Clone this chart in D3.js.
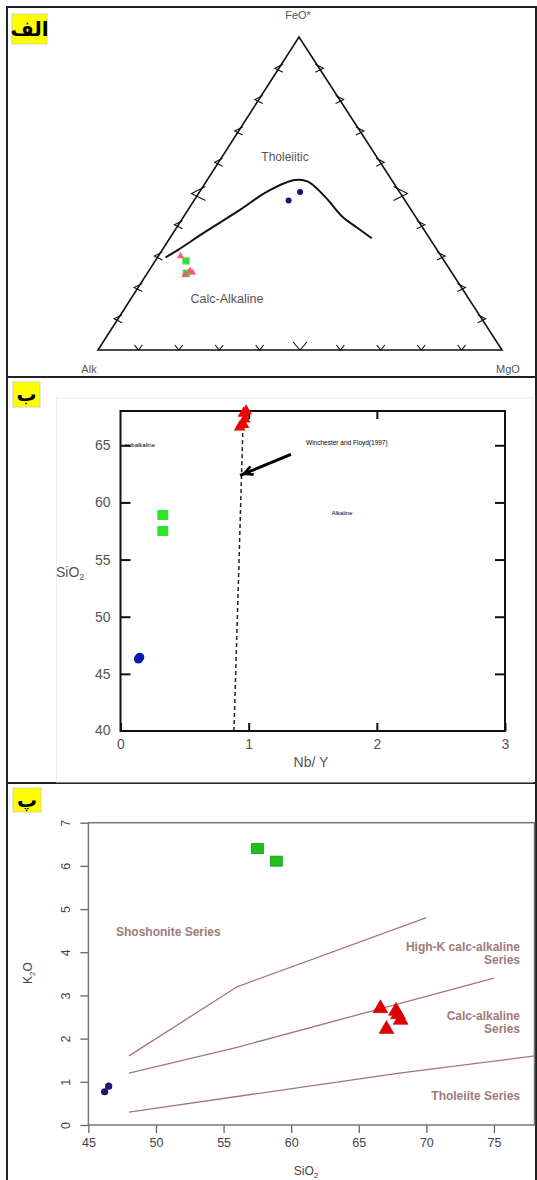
<!DOCTYPE html>
<html>
<head>
<meta charset="utf-8">
<script src="https://cdn.jsdelivr.net/npm/d3@7"></script>
<style>
  body { margin: 0; background: #fff; }
  text { font-family: "Liberation Sans", Arial, sans-serif; }
</style>
</head>
<body>
<svg id="chart" width="537" height="1180"></svg>
<script>
// panel A - AFM ternary, each point [Alk, FeO*, MgO] in %
var afmBoundary = [[68.4,29.6,2.0],[64.1,32.0,3.9],[54.4,37.8,7.8],[42.5,44.7,12.8],[32.7,50.6,16.7],
                   [24.1,54.3,21.6],[21.0,53.8,25.2],[19.2,49.0,31.8],[18.1,42.6,39.3],[16.1,38.9,45.0],[14.3,35.7,50.0]];
var afmBlue  = [[28.8,47.8,23.4],[24.6,50.5,24.9]];
var afmGreen = [[63.9,28.5,7.6],[65.8,24.5,9.7]];
var afmRed   = [[64.5,30.0,5.5],[64.5,25.3,10.2],[66.4,24.0,9.6],[64.2,24.7,11.1]];
var afmTicks = [10,20,30,40,50,60,70,80,90];

// panel B - SiO2 vs Nb/Y
var nbyBlue = [0.14, 0.15],  sioBlue = [46.3, 46.45];
var nbyGreen = [0.33, 0.33], sioGreen = [58.9, 57.5];
var nbyRed = [0.93, 0.96, 0.97, 0.96, 0.98], sioRed = [66.6, 66.8, 67.3, 67.8, 68.0];
var nbyDivide = [0.885, 0.92, 0.955], sioDivide = [40, 53, 66.5];
var arrowFrom = [1.33, 64.2], arrowTo = [0.962, 62.5];
var nbyTicks = [0, 1, 2, 3], sioTicks = [40, 45, 50, 55, 60, 65];

// panel P - K2O vs SiO2
var sioBlue3 = [46.2, 46.5],  kBlue3 = [0.77, 0.90];
var sioGreen3 = [57.5, 58.9], kGreen3 = [6.4, 6.11];
var sioRed3 = [66.6, 67.75, 67.9, 68.1, 67.05], kRed3 = [2.70, 2.64, 2.56, 2.43, 2.22];
var lineShoshonite = [[48,1.6],[56,3.2],[70,4.8]];
var lineHighK      = [[48,1.2],[56,1.8],[75,3.4]];
var lineTholeiite  = [[48,0.3],[68,1.2],[78,1.6]];
var sio3Ticks = [45,50,55,60,65,70,75], k3Ticks = [0,1,2,3,4,5,6,7];

var svg = d3.select("#chart");
svg.append("rect").attr("width", 537).attr("height", 1180).attr("fill", "#fff");

// ---------- panel frames + labels ----------
svg.append("rect").attr("x", 7).attr("y", 7).attr("width", 529).attr("height", 1185)
  .attr("fill", "none").attr("stroke", "#222").attr("stroke-width", 2);
[377, 783].forEach(function(y) {
  svg.append("line").attr("x1", 7).attr("x2", 537).attr("y1", y).attr("y2", y)
    .attr("stroke", "#222").attr("stroke-width", 2);
});

function panelLabel(x, y, w, h, txt) {
  svg.append("rect").attr("x", x).attr("y", y).attr("width", w).attr("height", h)
    .attr("fill", "#ffff00").attr("stroke", "#c8c8a0").attr("stroke-width", 0.8);
  svg.append("text").attr("x", x + w / 2).attr("y", y + h / 2 + 1)
    .attr("text-anchor", "middle").attr("dominant-baseline", "middle")
    .style("font-family", "DejaVu Sans").style("font-weight", "bold").style("font-size", "20px")
    .attr("fill", "#000").text(txt);
}
panelLabel(12, 14, 35, 30, "الف");
panelLabel(13, 382, 27, 25, "ب");
panelLabel(13, 788, 28, 24, "پ");

// ---------- panel A ----------
var tf = d3.scaleLinear().domain([0, 100]).range([350, 37]);   // FeO -> y
var tfx = d3.scaleLinear().domain([0, 100]).range([0, 201]);   // FeO -> x shift
var tm = d3.scaleLinear().domain([0, 100]).range([98, 502]);   // MgO -> x
function tern(p) { return [tm(p[2]) + tfx(p[1]), tf(p[1])]; }

var gA = svg.append("g");
var corners = [[100,0,0],[0,100,0],[0,0,100]].map(tern);
gA.append("path").attr("d", "M" + corners.join("L") + "Z")
  .attr("fill", "none").attr("stroke", "#111").attr("stroke-width", 1.6);

afmTicks.forEach(function(v) {
  var big = v === 50, s = big ? 7 : 4;
  var l = tern([100 - v, v, 0]), r = tern([0, v, 100 - v]), b = tern([100 - v, 0, v]);
  gA.append("path").attr("d", "M" + (l[0] + s) + "," + (l[1] - s) + "L" + (l[0] - s) + "," + l[1] + "L" + (l[0] + s) + "," + (l[1] + s))
    .attr("fill", "none").attr("stroke", "#111").attr("stroke-width", 1.1);
  gA.append("path").attr("d", "M" + (r[0] - s) + "," + (r[1] - s) + "L" + (r[0] + s) + "," + r[1] + "L" + (r[0] - s) + "," + (r[1] + s))
    .attr("fill", "none").attr("stroke", "#111").attr("stroke-width", 1.1);
  gA.append("path").attr("d", "M" + (b[0] - s) + "," + (b[1] - s - 1) + "L" + b[0] + "," + b[1] + "L" + (b[0] + s) + "," + (b[1] - s - 1))
    .attr("fill", "none").attr("stroke", "#111").attr("stroke-width", 1.1);
});

gA.append("path").datum(afmBoundary)
  .attr("d", d3.line().x(function(d) { return tern(d)[0]; }).y(function(d) { return tern(d)[1]; }).curve(d3.curveCatmullRom))
  .attr("fill", "none").attr("stroke", "#111").attr("stroke-width", 2);

gA.selectAll(".ab").data(afmBlue).enter().append("circle")
  .attr("cx", function(d) { return tern(d)[0]; }).attr("cy", function(d) { return tern(d)[1]; })
  .attr("r", 3).attr("fill", "#14146e");
gA.selectAll(".ag").data(afmGreen).enter().append("rect")
  .attr("x", function(d) { return tern(d)[0] - 3.5; }).attr("y", function(d) { return tern(d)[1] - 3.5; })
  .attr("width", 7).attr("height", 7).attr("fill", "#33dd33").attr("stroke", "#8ee88e");
gA.selectAll(".ar").data(afmRed).enter().append("path")
  .attr("d", d3.symbol(d3.symbolTriangle).size(24))
  .attr("transform", function(d) { return "translate(" + tern(d) + ")"; })
  .attr("fill", "#ff4f6e").attr("opacity", 0.9);

var labA = [["FeO*", 298, 19, 11], ["Alk", 89, 373, 11], ["MgO", 508, 373, 11], ["Tholeiitic", 285, 161, 12], ["Calc-Alkaline", 227, 303, 12.5]];
labA.forEach(function(l) {
  gA.append("text").attr("x", l[1]).attr("y", l[2]).attr("text-anchor", "middle")
    .style("font-size", l[3] + "px").attr("fill", "#555").text(l[0]);
});

// ---------- panel B ----------
var x2 = d3.scaleLinear().domain([0, 3]).range([120.5, 505]);
var y2 = d3.scaleLinear().domain([40, 68]).range([731, 411]);
var gB = svg.append("g");

gB.append("rect").attr("x", 56.5).attr("y", 398).attr("width", 476).attr("height", 384)
  .attr("fill", "none").attr("stroke", "#ececec");

function styleAxis(g, col, fs) {
  g.select(".domain").remove();
  g.selectAll("line").attr("stroke", "#111").attr("stroke-width", 2);
  g.selectAll("text").attr("fill", col).style("font-size", fs).style("font-family", "Liberation Sans");
}
gB.append("g").attr("transform", "translate(" + x2(0) + ",0)")
  .call(d3.axisLeft(y2).tickValues(sioTicks.slice(1)).tickSizeInner(-10).tickSizeOuter(0).tickPadding(10))
  .call(styleAxis, "#555", "14px");
gB.append("text").attr("x", x2(0) - 10).attr("y", y2(40)).attr("dy", "0.32em").attr("text-anchor", "end")
  .style("font-size", "14px").attr("fill", "#555").text(sioTicks[0]);
gB.append("g").attr("transform", "translate(" + x2(3) + ",0)")
  .call(d3.axisRight(y2).tickValues(sioTicks.slice(1)).tickSizeInner(-10).tickSizeOuter(0).tickFormat(""))
  .call(styleAxis, "#555", "14px");
gB.append("g").attr("transform", "translate(0," + y2(40) + ")")
  .call(d3.axisBottom(x2).tickValues(nbyTicks).tickFormat(d3.format("d")).tickSizeInner(-8).tickSizeOuter(0).tickPadding(8))
  .call(styleAxis, "#555", "14px");
gB.append("g").attr("transform", "translate(0," + y2(68) + ")")
  .call(d3.axisTop(x2).tickValues([1, 2]).tickSizeInner(-8).tickSizeOuter(0).tickFormat(""))
  .call(styleAxis, "#555", "14px");
gB.append("rect").attr("x", x2(0)).attr("y", y2(68)).attr("width", x2(3) - x2(0)).attr("height", y2(40) - y2(68))
  .attr("fill", "none").attr("stroke", "#111").attr("stroke-width", 2);

gB.append("path").datum(d3.zip(nbyDivide, sioDivide))
  .attr("d", d3.line().x(function(d) { return x2(d[0]); }).y(function(d) { return y2(d[1]); }))
  .attr("fill", "none").attr("stroke", "#222").attr("stroke-width", 1.5).attr("stroke-dasharray", "4,3");

// arrow
var ax0 = x2(arrowFrom[0]), ay0 = y2(arrowFrom[1]), ax1 = x2(arrowTo[0]), ay1 = y2(arrowTo[1]);
var ang = Math.atan2(ay1 - ay0, ax1 - ax0);
gB.append("line").attr("x1", ax0).attr("y1", ay0).attr("x2", ax1 + 4 * Math.cos(ang)).attr("y2", ay1 + 4 * Math.sin(ang))
  .attr("stroke", "#000").attr("stroke-width", 3);
var hl = 10, hw = 0.45;
gB.append("path").attr("d", "M" + (ax1 - hl * Math.cos(ang - hw)) + "," + (ay1 - hl * Math.sin(ang - hw)) +
    "L" + ax1 + "," + ay1 + "L" + (ax1 - hl * Math.cos(ang + hw)) + "," + (ay1 - hl * Math.sin(ang + hw)))
  .attr("fill", "none").attr("stroke", "#000").attr("stroke-width", 2.5);

gB.selectAll(".bb").data(d3.zip(nbyBlue, sioBlue)).enter().append("circle")
  .attr("cx", function(d) { return x2(d[0]); }).attr("cy", function(d) { return y2(d[1]); })
  .attr("r", 4.6).attr("fill", "#0a1aa8");
gB.selectAll(".bg").data(d3.zip(nbyGreen, sioGreen)).enter().append("rect")
  .attr("x", function(d) { return x2(d[0]) - 5.5; }).attr("y", function(d) { return y2(d[1]) - 5; })
  .attr("width", 11).attr("height", 10).attr("rx", 1).attr("fill", "#2be62b");
gB.selectAll(".br").data(d3.zip(nbyRed, sioRed)).enter().append("path")
  .attr("d", d3.symbol(d3.symbolTriangle).size(60))
  .attr("transform", function(d) { return "translate(" + x2(d[0]) + "," + y2(d[1]) + ")"; })
  .attr("fill", "#ee0000");

gB.append("text").attr("x", 125).attr("y", 447).style("font-size", "6px").attr("fill", "#000").text("subalkaline");
gB.append("text").attr("x", 306).attr("y", 445).style("font-size", "6.5px").attr("fill", "#000").text("Winchester and  Floyd(1997)");
gB.append("text").attr("x", 342).attr("y", 515).attr("text-anchor", "middle").style("font-size", "6px").attr("fill", "#000").text("Alkaline");
var sioLab = gB.append("text").attr("x", 56).attr("y", 577).style("font-size", "14px").attr("fill", "#555");
sioLab.append("tspan").text("SiO");
sioLab.append("tspan").attr("dy", 3).style("font-size", "9px").text("2");
gB.append("text").attr("x", 311).attr("y", 767).attr("text-anchor", "middle").style("font-size", "14px").attr("fill", "#555").text("Nb/ Y");

// ---------- panel P ----------
var x3 = d3.scaleLinear().domain([45, 78]).range([88.4, 534.5]);
var y3 = d3.scaleLinear().domain([0, 7]).range([1125, 822.7]);
var gP = svg.append("g");

function styleAxis3(g) {
  g.select(".domain").remove();
  g.selectAll("line").attr("stroke", "#666").attr("stroke-width", 1.3);
  g.selectAll("text").attr("fill", "#444").style("font-size", "12.5px").style("font-family", "Liberation Sans");
}
gP.append("g").attr("transform", "translate(" + x3(45) + ",0)")
  .call(d3.axisLeft(y3).tickValues(k3Ticks).tickSize(8).tickFormat(d3.format("d")))
  .call(styleAxis3)
  .selectAll("text").attr("x", 0).attr("dy", 0).attr("text-anchor", "middle")
  .attr("transform", "translate(-18,0) rotate(-90)");
gP.append("g").attr("transform", "translate(0," + y3(0) + ")")
  .call(d3.axisBottom(x3).tickValues(sio3Ticks).tickSize(8).tickPadding(5))
  .call(styleAxis3);
gP.append("rect").attr("x", x3(45)).attr("y", y3(7)).attr("width", x3(78) - x3(45)).attr("height", y3(0) - y3(7))
  .attr("fill", "none").attr("stroke", "#777").attr("stroke-width", 1.5);

var line3 = d3.line().x(function(d) { return x3(d[0]); }).y(function(d) { return y3(d[1]); });
[lineShoshonite, lineHighK, lineTholeiite].forEach(function(l) {
  gP.append("path").datum(l).attr("d", line3).attr("fill", "none").attr("stroke", "#a87474").attr("stroke-width", 1.3);
});

gP.selectAll(".pb").data(d3.zip(sioBlue3, kBlue3)).enter().append("circle")
  .attr("cx", function(d) { return x3(d[0]); }).attr("cy", function(d) { return y3(d[1]); })
  .attr("r", 3.6).attr("fill", "#17176e");
gP.selectAll(".pg").data(d3.zip(sioGreen3, kGreen3)).enter().append("rect")
  .attr("x", function(d) { return x3(d[0]) - 6; }).attr("y", function(d) { return y3(d[1]) - 5; })
  .attr("width", 12).attr("height", 10).attr("fill", "#1fbf1f").attr("stroke", "#159915").attr("stroke-width", 0.8);
gP.selectAll(".pr").data(d3.zip(sioRed3, kRed3)).enter().append("path")
  .attr("d", d3.symbol(d3.symbolTriangle).size(95))
  .attr("transform", function(d) { return "translate(" + x3(d[0]) + "," + y3(d[1]) + ")"; })
  .attr("fill", "#e00000").attr("stroke", "#c00000").attr("stroke-width", 0.6);

var serLab = [["Shoshonite Series", 116, 936, "start"], ["High-K calc-alkaline", 520, 951, "end"], ["Series", 520, 964, "end"],
              ["Calc-alkaline", 520, 1020, "end"], ["Series", 520, 1033, "end"], ["Tholeiite Series", 520, 1100, "end"]];
serLab.forEach(function(l) {
  gP.append("text").attr("x", l[1]).attr("y", l[2]).attr("text-anchor", l[3])
    .style("font-size", "12px").style("font-weight", "bold").attr("fill", "#a07a7a").text(l[0]);
});
var sio3 = gP.append("text").attr("x", 306).attr("y", 1175).attr("text-anchor", "middle").style("font-size", "12px").attr("fill", "#444");
sio3.append("tspan").text("SiO");
sio3.append("tspan").attr("dy", 3).style("font-size", "8px").text("2");
var k2o = gP.append("text").attr("transform", "translate(32,973) rotate(-90)").attr("text-anchor", "middle").style("font-size", "12px").attr("fill", "#444");
k2o.append("tspan").text("K");
k2o.append("tspan").attr("dy", 3).style("font-size", "8px").text("2");
k2o.append("tspan").attr("dy", -3).text("O");
</script>
</body>
</html>
